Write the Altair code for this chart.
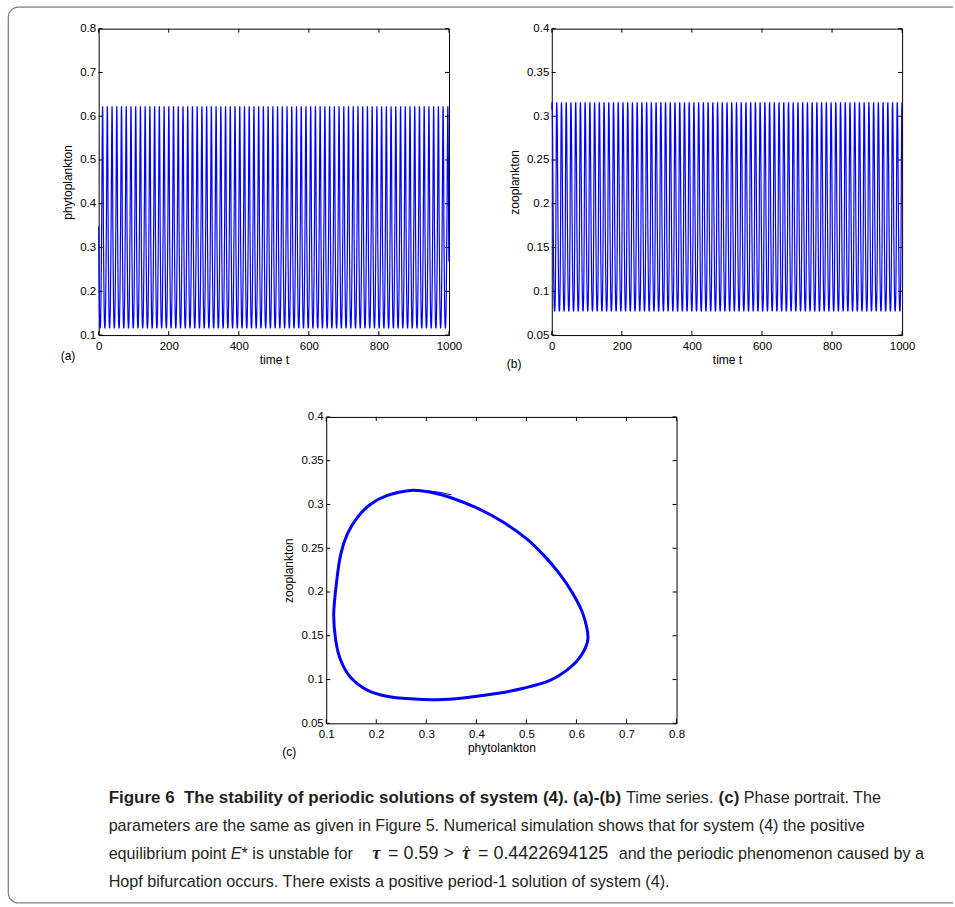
import altair as alt
import pandas as pd

# ---------------- data ----------------
# one limit-cycle loop (phytoplankton, zooplankton)
cycle_phyto = [0.348, 0.308, 0.268, 0.221, 0.188, 0.162, 0.142, 0.129, 0.121, 0.115,
               0.119, 0.129, 0.148, 0.182, 0.221, 0.268, 0.321, 0.374, 0.440, 0.494,
               0.547, 0.586, 0.610, 0.623, 0.613, 0.593, 0.566, 0.533, 0.500, 0.450, 0.401]
cycle_zoo = [0.308, 0.314, 0.316, 0.310, 0.300, 0.285, 0.266, 0.243, 0.213, 0.175,
             0.145, 0.122, 0.103, 0.088, 0.081, 0.078, 0.077, 0.079, 0.084, 0.090,
             0.099, 0.113, 0.128, 0.147, 0.175, 0.198, 0.221, 0.243, 0.261, 0.281, 0.296]
# position of each point within one period (fraction of the period)
cycle_phase = [0.00, 0.03, 0.06, 0.10, 0.13, 0.16, 0.19, 0.22, 0.26, 0.31,
               0.36, 0.40, 0.44, 0.49, 0.53, 0.57, 0.61, 0.65, 0.69, 0.72,
               0.75, 0.78, 0.80, 0.83, 0.86, 0.88, 0.90, 0.92, 0.94, 0.96, 0.98]
period = 13.5          # time units per oscillation (about 74 peaks in 0..1000)
t_end = 1000

# short initial transient visible in the phase portrait
transient_phyto = [0.350, 0.320, 0.290]
transient_zoo = [0.311, 0.3145, 0.316]

time_ticks = [0, 200, 400, 600, 800, 1000]
phyto_ticks = [0.1, 0.2, 0.3, 0.4, 0.5, 0.6, 0.7, 0.8]
zoo_ticks = [0.05, 0.1, 0.15, 0.2, 0.25, 0.3, 0.35, 0.4]

caption_line1 = ["Figure 6\u00a0 The stability of periodic solutions of system (4). (a)-(b)",
                 "Time series.", "(c)", "Phase portrait. The"]
caption_line2 = "parameters are the same as given in Figure 5. Numerical simulation shows that for system (4) the positive"
caption_line3 = ["equilibrium point", "E", "* is unstable for", "\u03c4", "= 0.59 >",
                 "\u03c4", "^", "= 0.4422694125",
                 "and the periodic phenomenon caused by a"]
caption_line4 = "Hopf bifurcation occurs. There exists a positive period-1 solution of system (4)."

# ---------------- tables ----------------
rows = []
k = 0
done = False
while not done:
    for f, p, z in zip(cycle_phase, cycle_phyto, cycle_zoo):
        t = (k + f) * period
        if t > t_end:
            done = True
            break
        rows.append({"t": t, "phyto": p, "zoo": z})
    k += 1
ts = pd.DataFrame(rows)

loop = pd.DataFrame({"phyto": cycle_phyto, "zoo": cycle_zoo, "idx": list(range(len(cycle_phyto)))})
trans = pd.DataFrame({"phyto": transient_phyto, "zoo": transient_zoo, "idx": list(range(len(transient_phyto)))})

W, H = 351, 307
BLUE = "#0000ff"
FONT = "Liberation Sans"


def ax(vals, title, orient):
    if orient == "x":
        return alt.Axis(values=vals, title=title, format="~r", labelFlush=False, labelPadding=5,
                        titlePadding=3, ticks=False, domain=False, grid=False)
    return alt.Axis(values=vals, title=title, format="~r", labelFlush=False, labelPadding=3,
                    titlePadding=5, ticks=False, domain=False, grid=False)


def tick_layers(xs, ys, xaxis, yaxis, xticks, yticks):
    xt = pd.DataFrame({"xv": xticks})
    yt = pd.DataFrame({"yv": yticks})
    out = []
    for a, b in [(H, H - 4), (0, 4)]:
        out.append(alt.Chart(xt).mark_rule(color="black", strokeWidth=1).encode(
            x=alt.X("xv:Q", scale=xs, axis=xaxis), y=alt.value(a), y2=alt.value(b)))
    for a, b in [(0, 4), (W - 4, W)]:
        out.append(alt.Chart(yt).mark_rule(color="black", strokeWidth=1).encode(
            y=alt.Y("yv:Q", scale=ys, axis=yaxis), x=alt.value(a), x2=alt.value(b)))
    return out


def label(txt, x, y):
    return alt.Chart(pd.DataFrame({"s": [txt]})).mark_text(
        align="left", baseline="alphabetic", font=FONT, fontSize=12, color="black").encode(
        x=alt.value(x), y=alt.value(y), text="s:N")


def ts_panel(field, ydom, yticks, ytitle, lab, lx, ly):
    xs = alt.Scale(domain=[0, 1000], nice=False, zero=False)
    ys = alt.Scale(domain=ydom, nice=False, zero=False)
    xa = ax(time_ticks, "time t", "x")
    ya = ax(yticks, ytitle, "y")
    line = alt.Chart(ts).mark_line(color=BLUE, strokeWidth=1.2).encode(
        x=alt.X("t:Q", scale=xs, axis=xa),
        y=alt.Y(f"{field}:Q", scale=ys, axis=ya))
    return alt.layer(line, *tick_layers(xs, ys, xa, ya, time_ticks, yticks),
                     label(lab, lx, ly)).properties(width=W, height=H)


pa = ts_panel("phyto", [0.1, 0.8], phyto_ticks, "phytoplankton", "(a)", -38, 332)
pb = ts_panel("zoo", [0.05, 0.4], zoo_ticks, "zooplankton", "(b)", -45, 340)

xs_c = alt.Scale(domain=[0.1, 0.8], nice=False, zero=False)
ys_c = alt.Scale(domain=[0.05, 0.4], nice=False, zero=False)
xa_c = ax(phyto_ticks, "phytolankton", "x")
ya_c = ax(zoo_ticks, "zooplankton", "y")
loop_line = alt.Chart(loop).mark_line(color=BLUE, strokeWidth=3, interpolate="cardinal-closed").encode(
    x=alt.X("phyto:Q", scale=xs_c, axis=xa_c),
    y=alt.Y("zoo:Q", scale=ys_c, axis=ya_c),
    order="idx:Q")
trans_line = alt.Chart(trans).mark_line(color=BLUE, strokeWidth=1, interpolate="monotone").encode(
    x=alt.X("phyto:Q", scale=xs_c, axis=xa_c),
    y=alt.Y("zoo:Q", scale=ys_c, axis=ya_c),
    order="idx:Q")
pc = alt.layer(loop_line, trans_line, *tick_layers(xs_c, ys_c, xa_c, ya_c, phyto_ticks, zoo_ticks),
               label("(c)", -44, 340)).properties(width=W, height=H)

spacer = alt.Chart(pd.DataFrame({"s": [0]})).mark_point(opacity=0).encode(
    x=alt.value(0), y=alt.value(0)).properties(width=228, height=H,
                                                view=alt.ViewBackground(stroke="transparent"))

# ---------------- caption & frame ----------------
CCOL = "#231f20"


def ctext(s, x, y, weight="normal", style="normal", size=16.2, font=FONT, align="left"):
    return alt.Chart(pd.DataFrame({"s": [s]})).mark_text(
        align=align, baseline="alphabetic", font=font, fontSize=size, fontWeight=weight,
        fontStyle=style, color=CCOL).encode(x=alt.value(x), y=alt.value(y), text="s:N")


x0 = 10
y1, y2, y3, y4 = -2, 26, 54, 82
cap_layers = [
    ctext(caption_line1[0], x0, y1, weight="bold", size=17),
    ctext(caption_line1[1], x0 + 518.4, y1),
    ctext(caption_line1[2], x0 + 611.1, y1, weight="bold", size=17),
    ctext(caption_line1[3], x0 + 636.4, y1),
    ctext(caption_line2, x0, y2),
    ctext(caption_line3[0], x0, y3),
    ctext(caption_line3[1], x0 + 122.4, y3, style="italic"),
    ctext(caption_line3[2], x0 + 133.2, y3),
    ctext(caption_line3[3], x0 + 264, y3, weight="bold", style="italic", size=18.5, font="Liberation Serif"),
    ctext(caption_line3[4], x0 + 280, y3, size=18),
    ctext(caption_line3[5], x0 + 354, y3, weight="bold", style="italic", size=18.5, font="Liberation Serif"),
    ctext(caption_line3[6], x0 + 359, y3 - 5, size=11, align="center"),
    ctext(caption_line3[7], x0 + 370, y3),
    ctext(caption_line3[8], x0 + 511, y3),
    ctext(caption_line4, x0, y4),
]
# the "= 0.4422694125" part is drawn a little larger, like the math in the reference
cap_layers[12] = ctext(caption_line3[7], x0 + 370, y3, size=18)

one = pd.DataFrame({"s": [0]})
GRAY = "#808080"
SW = 1.3
L, T, B, R, RAD = -90.5, -799.5, 98, 856, 10
frame = [
    alt.Chart(one).mark_rule(color=GRAY, strokeWidth=SW).encode(
        x=alt.value(L), y=alt.value(T + RAD), y2=alt.value(B - RAD)),
    alt.Chart(one).mark_rule(color=GRAY, strokeWidth=SW).encode(
        x=alt.value(L + RAD), x2=alt.value(R), y=alt.value(T)),
    alt.Chart(one).mark_rule(color=GRAY, strokeWidth=SW).encode(
        x=alt.value(L + RAD), x2=alt.value(R), y=alt.value(B)),
    alt.Chart(one).mark_arc(color=GRAY, theta=4.71239, theta2=6.28319,
                            radius=RAD + SW / 2, radius2=RAD - SW / 2).encode(
        x=alt.value(L + RAD), y=alt.value(T + RAD)),
    alt.Chart(one).mark_arc(color=GRAY, theta=3.14159, theta2=4.71239,
                            radius=RAD + SW / 2, radius2=RAD - SW / 2).encode(
        x=alt.value(L + RAD), y=alt.value(B - RAD)),
]

caption = alt.layer(*cap_layers, *frame).properties(
    width=805, height=60, view=alt.ViewBackground(stroke="transparent"))

row1 = alt.hconcat(pa, pb, spacing=103, bounds="flush")
row2 = alt.hconcat(spacer, pc, spacing=0, bounds="flush")

# nested concats count with zero height in a flush layout, so the spacing
# carries the panel height (307) plus the gap (82)
chart = alt.vconcat(row1, row2, caption, spacing=389, bounds="flush").properties(
    padding={"left": 6.85, "top": 4.85, "right": 0, "bottom": 0}
).configure_view(stroke="black", strokeWidth=1).configure_axis(
    labelFont=FONT, labelFontSize=11.5, labelColor="black",
    titleFont=FONT, titleFontSize=12, titleFontWeight="normal", titleColor="black"
)

chart.save("out.html", embed_options={"renderer": "svg", "actions": False})
